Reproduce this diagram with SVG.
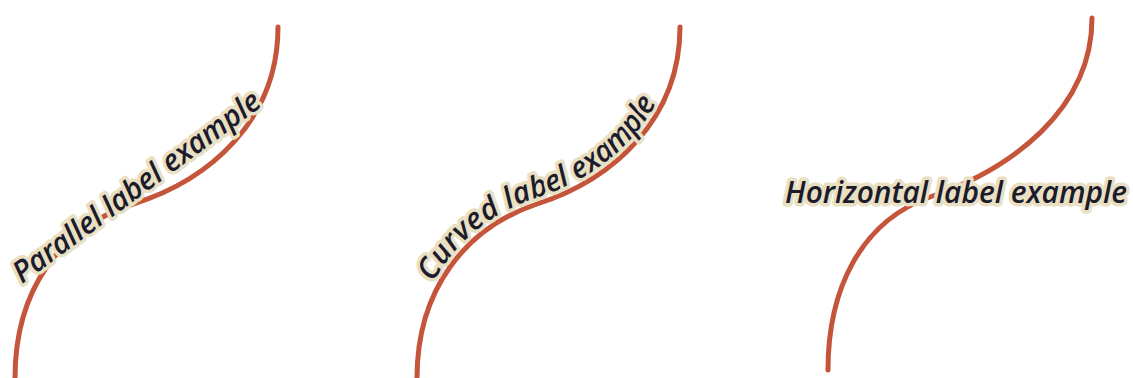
<svg xmlns="http://www.w3.org/2000/svg" width="1133" height="378" viewBox="0 0 1133 378">
<style>
.line{fill:none;stroke:#c4553b;stroke-width:5;stroke-linecap:round}
.lbl{font-family:"Open Sans","Liberation Sans",sans-serif;font-style:italic;font-weight:600;font-size:30px;fill:#1b1b2b;stroke:#e9dfc2;stroke-width:7;stroke-linejoin:round;paint-order:stroke}
</style>
<defs>
<path id="p2" d="M 417 378 C 417 290, 465 228, 537 204 C 612 180, 680 120, 680 27"/>
</defs>
<rect width="1133" height="378" fill="#ffffff"/>
<g id="connectors">
<path class="line" d="M 278 27 C 278 120, 210 180, 133 204 C 60 228, 15 290, 15 378"/>
<use href="#p2" class="line"/>
<path class="line" d="M 1092 18 C 1092 110, 1010 170, 930 197 C 860 222, 828 290, 828 370"/>
</g>
<g id="parallel">
<text class="lbl" transform="translate(22,284) rotate(-36.5)" textLength="300" lengthAdjust="spacingAndGlyphs">Parallel label example</text>
</g>
<g id="curved">
<text class="lbl" dy="-6"><textPath href="#p2" startOffset="96" textLength="294" lengthAdjust="spacingAndGlyphs">Curved label example</textPath></text>
</g>
<g id="horizontal">
<text class="lbl" x="785" y="203" textLength="342" lengthAdjust="spacingAndGlyphs">Horizontal label example</text>
</g>
</svg>
